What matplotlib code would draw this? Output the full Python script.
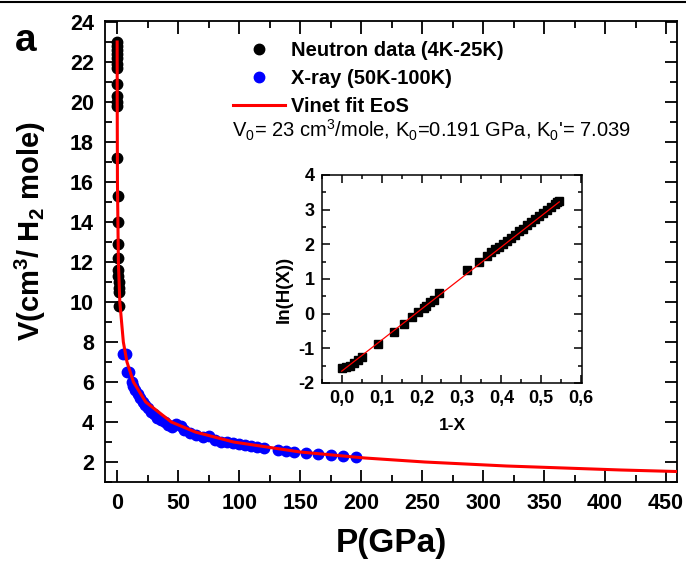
import numpy as np
import matplotlib
matplotlib.use("Agg")
import matplotlib.pyplot as plt
from matplotlib.lines import Line2D
from matplotlib.ticker import MultipleLocator, FuncFormatter

plt.rcParams['font.family'] = ['Liberation Sans', 'DejaVu Sans']
plt.rcParams['mathtext.default'] = 'regular'

# Neutron data (4K-25K)
neutron_P = [0.0, 0.0, 0.01, 0.01, 0.02, 0.02, 0.03, 0.04, 0.05, 0.06, 0.06,
             0.15, 0.3, 0.5, 0.7, 0.9, 1.0, 1.1, 1.2, 1.3, 1.4, 1.8]
neutron_V = [23.0, 22.8, 22.6, 22.4, 22.2, 21.9, 21.7, 20.9, 20.3, 20.0, 19.8,
             17.2, 15.3, 14.0, 12.9, 12.2, 11.6, 11.3, 11.0, 10.7, 10.5, 9.8]

# X-ray data (50K-100K)
xray_P = [5, 7, 8, 10, 12, 13, 15, 17, 19, 21, 23, 25, 28, 30, 33, 36, 39, 42,
          45, 48, 52, 55, 60, 65, 70, 75, 80, 85, 90, 95, 100, 105, 110, 115,
          120, 132, 138, 145, 155, 165, 175, 185, 196]
xray_V = [7.4, 7.4, 6.5, 6.5, 6.0, 5.8, 5.6, 5.4, 5.2, 5.0, 4.85, 4.7, 4.5, 4.4,
          4.2, 4.1, 4.0, 3.85, 3.75, 3.9, 3.8, 3.6, 3.45, 3.35, 3.25, 3.3, 3.1,
          3.0, 3.0, 2.95, 2.9, 2.85, 2.8, 2.75, 2.7, 2.6, 2.55, 2.5, 2.45, 2.4,
          2.35, 2.3, 2.25]

# Vinet fit EoS curve
fit_P = [0.0, 0.043, 0.233, 1.0, 2.18, 5.07, 8.05, 13.35, 23.4, 44.4, 64.0,
         95.4, 150, 203, 252, 319, 413, 473]
fit_V = [23.0, 20.0, 16.0, 12.0, 10.0, 8.0, 7.0, 6.0, 5.0, 4.0, 3.5,
         3.0, 2.5, 2.2, 2.0, 1.8, 1.6, 1.5]

# Inset: ln(H(X)) vs 1-X
inset_x = [0.0, 0.01, 0.02, 0.03, 0.04, 0.05, 0.09, 0.13, 0.155, 0.175, 0.19,
           0.205, 0.21, 0.22, 0.23, 0.245, 0.315, 0.345, 0.365, 0.375, 0.385,
           0.395, 0.405, 0.415, 0.425, 0.435, 0.445, 0.455, 0.465, 0.475,
           0.485, 0.495, 0.505, 0.515, 0.525, 0.535, 0.54, 0.545]
inset_y = [-1.58, -1.55, -1.5, -1.42, -1.33, -1.25, -0.88, -0.52, -0.3, -0.1,
           0.05, 0.17, 0.22, 0.32, 0.4, 0.6, 1.27, 1.5, 1.67, 1.77, 1.85,
           1.93, 2.0, 2.08, 2.17, 2.27, 2.37, 2.45, 2.55, 2.65, 2.73, 2.82,
           2.9, 2.98, 3.07, 3.15, 3.22, 3.25]
inset_fit_x = [0.0, 0.545]
inset_fit_y = [-1.66, 3.22]

fig = plt.figure(figsize=(6.86, 5.64), dpi=100)
ax = fig.add_axes([0.153, 0.1454, 0.834, 0.8174])

ax.plot(neutron_P, neutron_V, 'o', color='black', ms=7.5, ls='none',
        label='Neutron data (4K-25K)', zorder=3)
ax.plot(xray_P, xray_V, 'o', color='blue', ms=7.5, ls='none',
        label='X-ray (50K-100K)', zorder=3)
ax.plot(fit_P, fit_V, '-', color='red', lw=2.2, label='Vinet fit EoS', zorder=4)

ax.set_xlim(-10, 459)
ax.set_ylim(1.0, 24.05)
ax.xaxis.set_major_locator(MultipleLocator(50))
ax.xaxis.set_minor_locator(MultipleLocator(25))
ax.yaxis.set_major_locator(MultipleLocator(2))
ax.yaxis.set_minor_locator(MultipleLocator(1))
ax.tick_params(which='both', direction='in', top=True, right=True, width=1.3)
ax.tick_params(which='major', length=9, labelsize=15.5, pad=8)
ax.tick_params(which='minor', length=5)
for lbl in ax.get_xticklabels() + ax.get_yticklabels():
    lbl.set_fontweight('bold')
for sp in ax.spines.values():
    sp.set_linewidth(1.3)

ax.set_xlabel('P(GPa)', fontsize=24, fontweight='bold', labelpad=10)
ax.set_ylabel('V(cm$^3$/ H$_2$ mole)', fontsize=21, fontweight='bold')
ax.yaxis.set_label_coords(-0.099, 0.543)

leg = ax.legend(loc='upper left', bbox_to_anchor=(0.192, 0.995), frameon=False,
                handlelength=2.6, handletextpad=0.3, labelspacing=0.43,
                prop={'size': 14.5, 'weight': 'bold'})

ax.text(0.222, 0.762, "V$_0$= 23 cm$^3$/mole, K$_0$=0.191 GPa, K$_0$'= 7.039",
        transform=ax.transAxes, fontsize=14.5, ha='left', va='center')

fig.text(0.038, 0.927, 'a', fontsize=28, fontweight='bold', ha='center', va='center')

# inset
axi = fig.add_axes([0.469, 0.321, 0.380, 0.369])
axi.plot(inset_x, inset_y, 's', color='black', ms=6, ls='none', zorder=3)
axi.plot(inset_fit_x, inset_fit_y, '-', color='red', lw=0.9, zorder=4)
axi.set_xlim(-0.05, 0.603)
axi.set_ylim(-2, 4)
axi.xaxis.set_major_locator(MultipleLocator(0.1))
axi.xaxis.set_minor_locator(MultipleLocator(0.05))
axi.yaxis.set_major_locator(MultipleLocator(1))
axi.yaxis.set_minor_locator(MultipleLocator(0.5))
axi.xaxis.set_major_formatter(FuncFormatter(lambda v, p: f"{v:.1f}".replace('.', ',')))
axi.yaxis.set_major_formatter(FuncFormatter(lambda v, p: f"{v:.0f}".replace('\u2212', '-')))
axi.tick_params(which='both', direction='in', top=True, right=True, width=1.1)
axi.tick_params(which='major', length=6, labelsize=13, pad=5)
axi.tick_params(which='minor', length=3)
for lbl in axi.get_xticklabels() + axi.get_yticklabels():
    lbl.set_fontweight('bold')
for sp in axi.spines.values():
    sp.set_linewidth(1.1)
axi.set_xlabel('1-X', fontsize=12.5, fontweight='bold', labelpad=8)
axi.set_ylabel('ln(H(X))', fontsize=13.5, fontweight='bold')
axi.yaxis.set_label_coords(-0.11, 0.45)

fig.add_artist(Line2D([0, 1], [0.997, 0.997], transform=fig.transFigure,
                      color='black', lw=1.5))

fig.savefig('out.png', dpi=100)
